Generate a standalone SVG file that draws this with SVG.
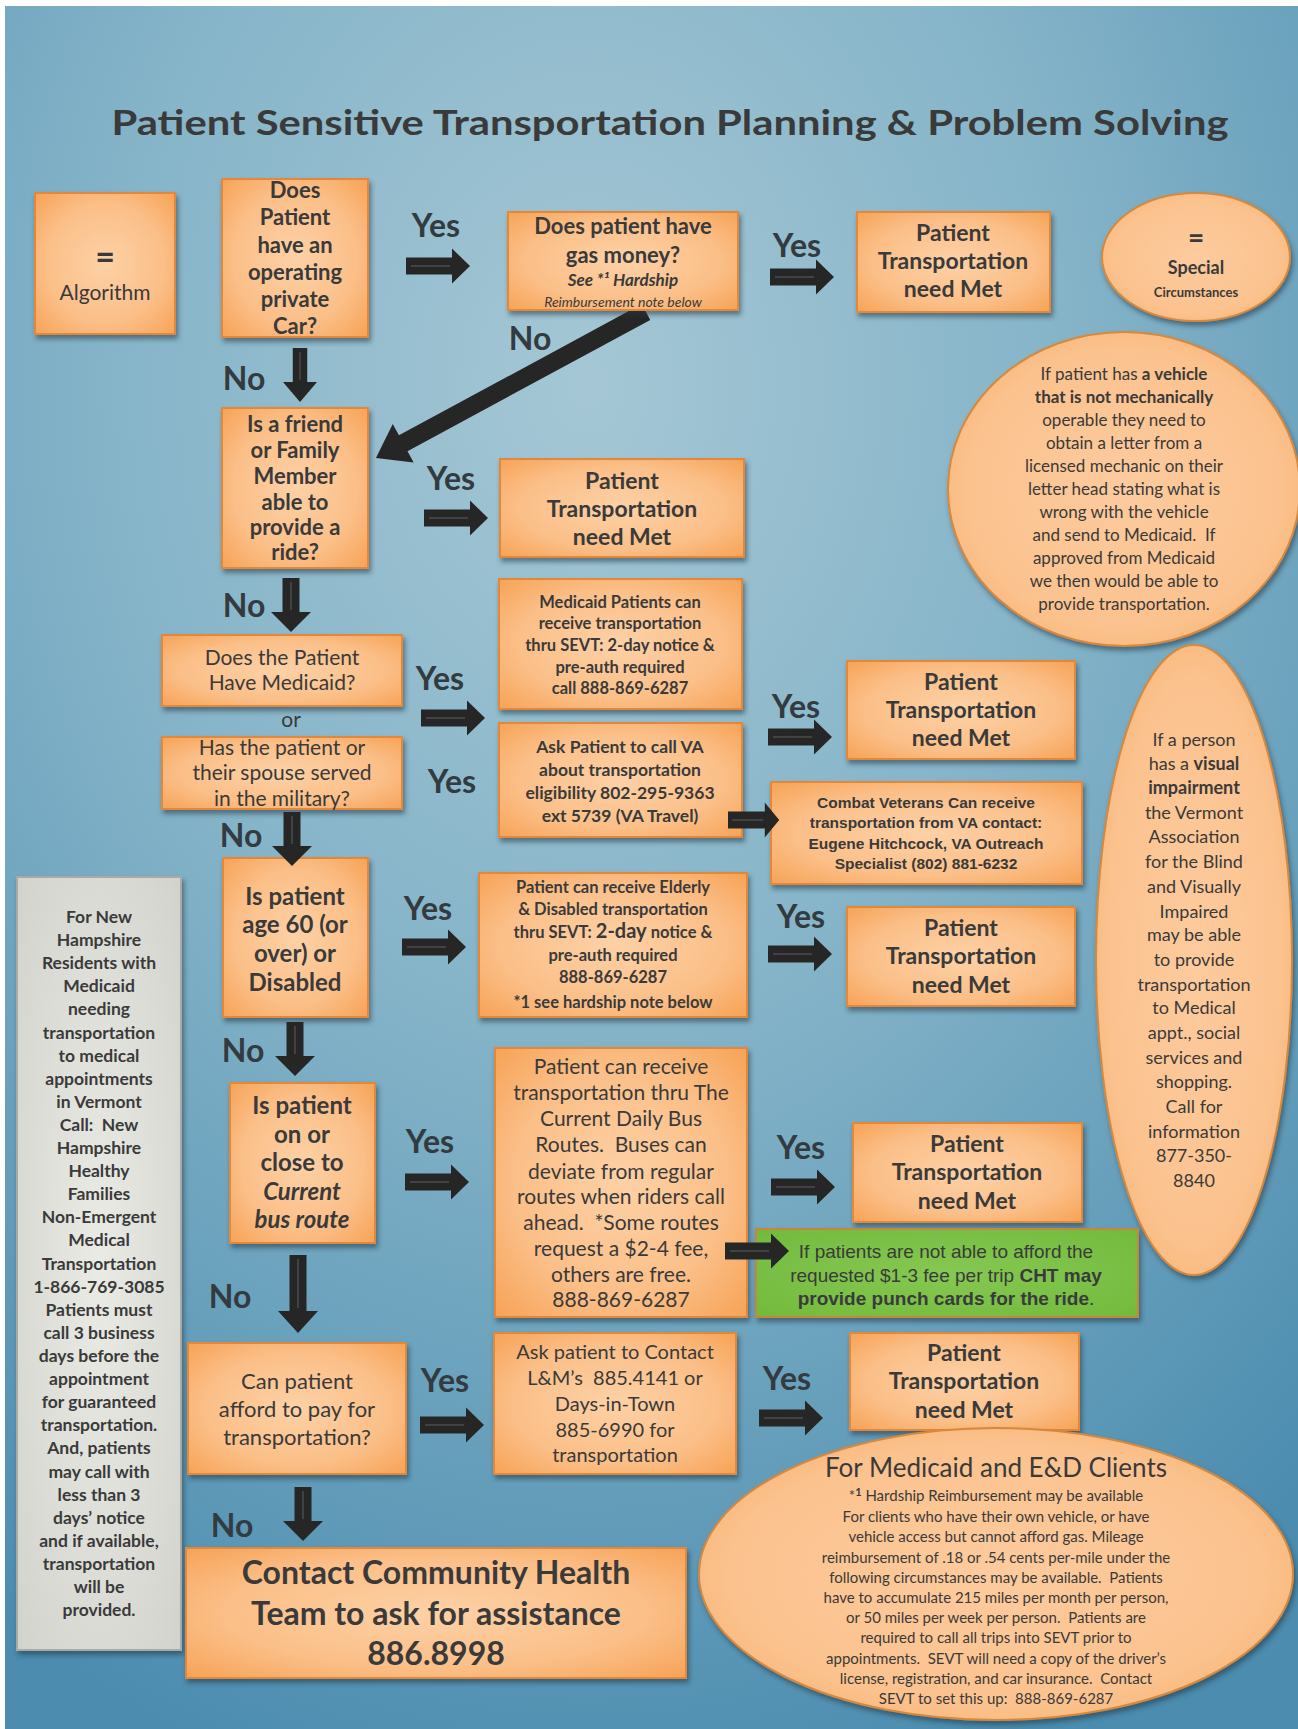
<svg xmlns="http://www.w3.org/2000/svg" xmlns:xlink="http://www.w3.org/1999/xlink" width="1298" height="1729" viewBox="0 0 1298 1729">
<defs>
<radialGradient id="bg" cx="0.45" cy="0.22" r="0.85">
<stop offset="0" stop-color="#a5c7d5"/>
<stop offset="0.45" stop-color="#84b3c8"/>
<stop offset="1" stop-color="#4b8caf"/>
</radialGradient>
<radialGradient id="og" cx="0.5" cy="0.5" r="0.7">
<stop offset="0" stop-color="#fdd1a6"/>
<stop offset="0.6" stop-color="#fbbf88"/>
<stop offset="1" stop-color="#f7a357"/>
</radialGradient>
<radialGradient id="eg" cx="0.5" cy="0.5" r="0.6">
<stop offset="0" stop-color="#fdcb9e"/>
<stop offset="0.75" stop-color="#fbc28e"/>
<stop offset="1" stop-color="#f8b06c"/>
</radialGradient>
<radialGradient id="gg" cx="0.5" cy="0.5" r="0.7">
<stop offset="0" stop-color="#86c853"/>
<stop offset="1" stop-color="#72ba3c"/>
</radialGradient>
<radialGradient id="wg" cx="0.5" cy="0.5" r="0.7">
<stop offset="0" stop-color="#ebebe6"/>
<stop offset="1" stop-color="#d2d3cd"/>
</radialGradient>
<filter id="sh" x="-10%" y="-10%" width="125%" height="125%">
<feDropShadow dx="2" dy="4" stdDeviation="2.5" flood-color="#1d3442" flood-opacity="0.55"/>
</filter>
<g id="arR">
<path d="M0,-8.5 H46 V-17.5 L64,0 L46,17.5 V8.5 H0 Z" fill="#262626"/>
<line x1="5" y1="0" x2="44" y2="0" stroke="#4d4d4d" stroke-width="1.5"/>
</g>
<g id="arD">
<path d="M-8.5,0 V34 H-20 L0,54 L20,34 H8.5 V0 Z" fill="#262626"/>
<line x1="0" y1="4" x2="0" y2="32" stroke="#4d4d4d" stroke-width="1.5"/>
</g>
<style>
.box{fill:url(#og);stroke:#e3873a;stroke-width:2;filter:url(#sh)}
.ell{fill:url(#eg);stroke:#d6883d;stroke-width:2;filter:url(#sh)}
.t{font-family:Lato,"Liberation Sans",sans-serif;fill:#3a3a3a;text-anchor:middle}
.a{font-family:"Liberation Sans",Arial,sans-serif;fill:#3a3a3a;text-anchor:middle}
.b{font-weight:700}
.i{font-style:italic}
.lb{font-family:Lato,"Liberation Sans",sans-serif;font-weight:700;font-size:32px;fill:#333b40;text-anchor:middle}
</style>
</defs>
<rect width="1298" height="1729" fill="#ffffff"/>
<rect x="5" y="6" width="1293" height="1723" fill="url(#bg)"/>
<text class="t b" x="670" y="135" font-size="34" textLength="1117" lengthAdjust="spacingAndGlyphs" fill="#3d3d3d">Patient Sensitive Transportation Planning &amp; Problem Solving</text>

<g id="connectors">
<path d="M0,-9 H276 V-22 L307,0 L276,22 V9 H0 Z" fill="#262626" transform="translate(646,312) rotate(151.6)"/>
</g>

<g id="algorithm"><rect class="box" x="35" y="193" width="140" height="141"/>
<text class="t b" x="105" y="269" font-size="34">=</text>
<text class="t" x="105" y="300" font-size="21">Algorithm</text></g>

<g id="q-car"><rect class="box" x="222" y="179" width="146" height="158"/>
<text class="t b" x="295" font-size="22"><tspan x="295" y="198">Does</tspan><tspan x="295" y="225">Patient</tspan><tspan x="295" y="253">have an</tspan><tspan x="295" y="280">operating</tspan><tspan x="295" y="307">private</tspan><tspan x="295" y="334">Car?</tspan></text></g>

<g id="q-gas"><rect class="box" x="508" y="212" width="230" height="98"/>
<text class="t b" x="623" y="234" font-size="22">Does patient have</text>
<text class="t b" x="623" y="263" font-size="22">gas money?</text>
<text class="t b i" x="623" y="286" font-size="17">See *¹ Hardship</text>
<text class="t i" x="623" y="307" font-size="14">Reimbursement note below</text></g>

<g id="met-1"><rect class="box" x="857" y="212" width="193" height="100"/>
<text class="t b" font-size="23"><tspan x="953" y="241">Patient</tspan><tspan x="953" y="269">Transportation</tspan><tspan x="953" y="297">need Met</tspan></text></g>

<g id="special"><ellipse class="ell" cx="1196" cy="257" rx="94" ry="64"/>
<text class="t b" x="1196" y="248" font-size="28">=</text>
<text class="t b" x="1196" y="274" font-size="18">Special</text>
<text class="t b" x="1196" y="297" font-size="13">Circumstances</text></g>

<g id="q-friend"><rect class="box" x="222" y="408" width="146" height="160"/>
<text class="t b" font-size="22"><tspan x="295" y="432">Is a friend</tspan><tspan x="295" y="458">or Family</tspan><tspan x="295" y="484">Member</tspan><tspan x="295" y="510">able to</tspan><tspan x="295" y="535">provide a</tspan><tspan x="295" y="560">ride?</tspan></text></g>

<g id="met-2"><rect class="box" x="500" y="459" width="244" height="98"/>
<text class="t b" font-size="23"><tspan x="622" y="489">Patient</tspan><tspan x="622" y="517">Transportation</tspan><tspan x="622" y="545">need Met</tspan></text></g>

<g id="vehicle-note"><ellipse class="ell" cx="1124" cy="489" rx="176" ry="157"/>
<text class="t" font-size="17" xml:space="preserve"><tspan x="1124" y="380">If patient has <tspan class="b">a vehicle</tspan></tspan><tspan x="1124" y="403" class="b">that is not mechanically</tspan><tspan x="1124" y="426">operable they need to</tspan><tspan x="1124" y="449">obtain a letter from a</tspan><tspan x="1124" y="472">licensed mechanic on their</tspan><tspan x="1124" y="495">letter head stating what is</tspan><tspan x="1124" y="518">wrong with the vehicle</tspan><tspan x="1124" y="541">and send to Medicaid.  If</tspan><tspan x="1124" y="564">approved from Medicaid</tspan><tspan x="1124" y="587">we then would be able to</tspan><tspan x="1124" y="610">provide transportation.</tspan></text></g>

<g id="q-medicaid"><rect class="box" x="162" y="635" width="240" height="71"/>
<text class="t" font-size="21"><tspan x="282" y="665">Does the Patient</tspan><tspan x="282" y="690">Have Medicaid?</tspan></text></g>
<text class="t" x="291" y="727" font-size="21">or</text>
<g id="q-military"><rect class="box" x="162" y="737" width="240" height="72"/>
<text class="t" font-size="21"><tspan x="282" y="755">Has the patient or</tspan><tspan x="282" y="780">their spouse served</tspan><tspan x="282" y="806">in the military?</tspan></text></g>

<g id="medicaid-info"><rect class="box" x="499" y="579" width="243" height="130"/>
<text class="t b" font-size="16.5"><tspan x="620" y="608">Medicaid Patients can</tspan><tspan x="620" y="629">receive transportation</tspan><tspan x="620" y="651">thru SEVT: 2-day notice &amp;</tspan><tspan x="620" y="673">pre-auth required</tspan><tspan x="620" y="694">call 888-869-6287</tspan></text></g>

<g id="va-info"><rect class="box" x="499" y="723" width="243" height="114"/>
<text class="t b" font-size="17.5"><tspan x="620" y="753">Ask Patient to call VA</tspan><tspan x="620" y="776">about transportation</tspan><tspan x="620" y="799">eligibility 802-295-9363</tspan><tspan x="620" y="822">ext 5739 (VA Travel)</tspan></text></g>

<g id="met-3"><rect class="box" x="847" y="661" width="228" height="98"/>
<text class="t b" font-size="23"><tspan x="961" y="690">Patient</tspan><tspan x="961" y="718">Transportation</tspan><tspan x="961" y="746">need Met</tspan></text></g>

<g id="combat"><rect class="box" x="771" y="782" width="311" height="102"/>
<text class="a b" font-size="15.5"><tspan x="926" y="808">Combat Veterans Can receive</tspan><tspan x="926" y="828">transportation from VA contact:</tspan><tspan x="926" y="849">Eugene Hitchcock, VA Outreach</tspan><tspan x="926" y="869">Specialist (802) 881-6232</tspan></text></g>

<g id="visual-note"><ellipse class="ell" cx="1194" cy="960" rx="98" ry="315"/>
<text class="t" font-size="18"><tspan x="1194" y="746">If a person</tspan><tspan x="1194" y="770">has a <tspan class="b">visual</tspan></tspan><tspan x="1194" y="794" class="b">impairment</tspan><tspan x="1194" y="819">the Vermont</tspan><tspan x="1194" y="843">Association</tspan><tspan x="1194" y="868">for the Blind</tspan><tspan x="1194" y="893">and Visually</tspan><tspan x="1194" y="918">Impaired</tspan><tspan x="1194" y="941">may be able</tspan><tspan x="1194" y="966">to provide</tspan><tspan x="1194" y="991">transportation</tspan><tspan x="1194" y="1014">to Medical</tspan><tspan x="1194" y="1039">appt., social</tspan><tspan x="1194" y="1064">services and</tspan><tspan x="1194" y="1088">shopping.</tspan><tspan x="1194" y="1113">Call for</tspan><tspan x="1194" y="1138">information</tspan><tspan x="1194" y="1162">877-350-</tspan><tspan x="1194" y="1187">8840</tspan></text></g>

<g id="nh-note"><rect x="17" y="877" width="164" height="773" fill="url(#wg)" stroke="#a9aaa5" stroke-width="2" filter="url(#sh)"/>
<text class="t b" font-size="17.5" xml:space="preserve"><tspan x="99" y="923">For New</tspan><tspan x="99" y="946">Hampshire</tspan><tspan x="99" y="969">Residents with</tspan><tspan x="99" y="992">Medicaid</tspan><tspan x="99" y="1015">needing</tspan><tspan x="99" y="1039">transportation</tspan><tspan x="99" y="1062">to medical</tspan><tspan x="99" y="1085">appointments</tspan><tspan x="99" y="1108">in Vermont</tspan><tspan x="99" y="1131">Call:  New</tspan><tspan x="99" y="1154">Hampshire</tspan><tspan x="99" y="1177">Healthy</tspan><tspan x="99" y="1200">Families</tspan><tspan x="99" y="1223">Non-Emergent</tspan><tspan x="99" y="1246">Medical</tspan><tspan x="99" y="1270">Transportation</tspan><tspan x="99" y="1293">1-866-769-3085</tspan><tspan x="99" y="1316">Patients must</tspan><tspan x="99" y="1339">call 3 business</tspan><tspan x="99" y="1362">days before the</tspan><tspan x="99" y="1385">appointment</tspan><tspan x="99" y="1408">for guaranteed</tspan><tspan x="99" y="1431">transportation.</tspan><tspan x="99" y="1454">And, patients</tspan><tspan x="99" y="1478">may call with</tspan><tspan x="99" y="1501">less than 3</tspan><tspan x="99" y="1524">days’ notice</tspan><tspan x="99" y="1547">and if available,</tspan><tspan x="99" y="1570">transportation</tspan><tspan x="99" y="1593">will be</tspan><tspan x="99" y="1616">provided.</tspan></text></g>

<g id="q-age"><rect class="box" x="223" y="858" width="145" height="159"/>
<text class="t b" font-size="24"><tspan x="295" y="905">Is patient</tspan><tspan x="295" y="933">age 60 (or</tspan><tspan x="295" y="962">over) or</tspan><tspan x="295" y="991">Disabled</tspan></text></g>

<g id="elderly-info"><rect class="box" x="479" y="873" width="268" height="144"/>
<text class="t b" font-size="16.5"><tspan x="613" y="893">Patient can receive Elderly</tspan><tspan x="613" y="915">&amp; Disabled transportation</tspan><tspan x="613" y="938">thru SEVT: <tspan font-size="20">2-day</tspan> notice &amp;</tspan><tspan x="613" y="961">pre-auth required</tspan><tspan x="613" y="983">888-869-6287</tspan><tspan x="613" y="1008">*1 see hardship note below</tspan></text></g>

<g id="met-4"><rect class="box" x="847" y="907" width="228" height="99"/>
<text class="t b" font-size="23"><tspan x="961" y="936">Patient</tspan><tspan x="961" y="964">Transportation</tspan><tspan x="961" y="993">need Met</tspan></text></g>

<g id="q-bus"><rect class="box" x="230" y="1083" width="145" height="160"/>
<text class="t b" font-size="24"><tspan x="302" y="1114">Is patient</tspan><tspan x="302" y="1143">on or</tspan><tspan x="302" y="1171">close to</tspan><tspan x="302" y="1200" class="i">Current</tspan><tspan x="302" y="1228" class="i">bus route</tspan></text></g>

<g id="bus-info"><rect class="box" x="495" y="1048" width="252" height="269"/>
<text class="t" font-size="21" xml:space="preserve"><tspan x="621" y="1074">Patient can receive</tspan><tspan x="621" y="1100">transportation thru The</tspan><tspan x="621" y="1126">Current Daily Bus</tspan><tspan x="621" y="1152">Routes.  Buses can</tspan><tspan x="621" y="1179">deviate from regular</tspan><tspan x="621" y="1204">routes when riders call</tspan><tspan x="621" y="1230">ahead.  *Some routes</tspan><tspan x="621" y="1256">request a $2-4 fee,</tspan><tspan x="621" y="1282">others are free.</tspan><tspan x="621" y="1307">888-869-6287</tspan></text></g>

<g id="met-5"><rect class="box" x="853" y="1123" width="229" height="99"/>
<text class="t b" font-size="23"><tspan x="967" y="1152">Patient</tspan><tspan x="967" y="1180">Transportation</tspan><tspan x="967" y="1209">need Met</tspan></text></g>

<g id="punch-cards"><rect x="756" y="1229" width="382" height="88" fill="url(#gg)" stroke="#c8863c" stroke-width="2" filter="url(#sh)"/>
<text class="a" font-size="19" fill="#333"><tspan x="946" y="1258">If patients are not able to afford the</tspan><tspan x="946" y="1282">requested $1-3 fee per trip <tspan class="b">CHT may</tspan></tspan><tspan x="946" y="1305"><tspan class="b">provide punch cards for the ride</tspan>.</tspan></text></g>

<g id="q-afford"><rect class="box" x="188" y="1343" width="218" height="131"/>
<text class="t" font-size="22"><tspan x="297" y="1389">Can patient</tspan><tspan x="297" y="1417">afford to pay for</tspan><tspan x="297" y="1445">transportation?</tspan></text></g>

<g id="lm-info"><rect class="box" x="494" y="1333" width="242" height="141"/>
<text class="t" font-size="20" xml:space="preserve"><tspan x="615" y="1359">Ask patient to Contact</tspan><tspan x="615" y="1385">L&amp;M’s  885.4141 or</tspan><tspan x="615" y="1411">Days-in-Town</tspan><tspan x="615" y="1437">885-6990 for</tspan><tspan x="615" y="1462">transportation</tspan></text></g>

<g id="met-6"><rect class="box" x="850" y="1333" width="229" height="97"/>
<text class="t b" font-size="23"><tspan x="964" y="1361">Patient</tspan><tspan x="964" y="1389">Transportation</tspan><tspan x="964" y="1418">need Met</tspan></text></g>

<g id="contact-cht"><rect class="box" x="186" y="1548" width="500" height="130"/>
<text class="t b" font-size="32"><tspan x="436" y="1584">Contact Community Health</tspan><tspan x="436" y="1625">Team to ask for assistance</tspan><tspan x="436" y="1665">886.8998</tspan></text></g>

<g id="hardship-note"><ellipse class="ell" cx="996" cy="1574" rx="297" ry="146"/>
<text class="t" x="996" y="1477" font-size="26">For Medicaid and E&amp;D Clients</text>
<text class="t" font-size="15" xml:space="preserve"><tspan x="996" y="1501">*<tspan class="b" font-size="11" dy="-5">1</tspan><tspan dy="5"> Hardship Reimbursement may be available</tspan></tspan><tspan x="996" y="1522">For clients who have their own vehicle, or have</tspan><tspan x="996" y="1542">vehicle access but cannot afford gas. Mileage</tspan><tspan x="996" y="1563">reimbursement of .18 or .54 cents per-mile under the</tspan><tspan x="996" y="1583">following circumstances may be available.  Patients</tspan><tspan x="996" y="1603">have to accumulate 215 miles per month per person,</tspan><tspan x="996" y="1623">or 50 miles per week per person.  Patients are</tspan><tspan x="996" y="1643">required to call all trips into SEVT prior to</tspan><tspan x="996" y="1664">appointments.  SEVT will need a copy of the driver’s</tspan><tspan x="996" y="1684">license, registration, and car insurance.  Contact</tspan><tspan x="996" y="1704">SEVT to set this up:  888-869-6287</tspan></text></g>

<g id="connectors-2">
<use xlink:href="#arR" transform="translate(406,266)"/>
<use xlink:href="#arR" transform="translate(770,277)"/>
<use xlink:href="#arR" transform="translate(424,518)"/>
<use xlink:href="#arR" transform="translate(421,718)"/>
<use xlink:href="#arR" transform="translate(768,737)"/>
<use xlink:href="#arR" transform="translate(728,820) scale(0.8,1)"/>
<use xlink:href="#arR" transform="translate(402,947)"/>
<use xlink:href="#arR" transform="translate(768,954)"/>
<use xlink:href="#arR" transform="translate(405,1182)"/>
<use xlink:href="#arR" transform="translate(771,1187)"/>
<use xlink:href="#arR" transform="translate(725,1251)"/>
<use xlink:href="#arR" transform="translate(420,1425)"/>
<use xlink:href="#arR" transform="translate(759,1418)"/>
<use xlink:href="#arD" transform="translate(300,348) scale(0.85,1)"/>
<use xlink:href="#arD" transform="translate(291,578)"/>
<use xlink:href="#arD" transform="translate(292,812)"/>
<use xlink:href="#arD" transform="translate(295,1022)"/>
<path d="M289.5,1255 V1311 H278 L298,1333 L318,1311 H306.5 V1255 Z" fill="#262626"/>
<line x1="298" y1="1259" x2="298" y2="1308" stroke="#4d4d4d" stroke-width="1.5"/>
<use xlink:href="#arD" transform="translate(303,1487)"/>
<text class="lb" x="436" y="237">Yes</text>
<text class="lb" x="797" y="257" font-weight="400" font-size="33">Yes</text>
<text class="lb" x="530" y="350">No</text>
<text class="lb" x="244" y="390">No</text>
<text class="lb" x="451" y="490">Yes</text>
<text class="lb" x="244" y="617">No</text>
<text class="lb" x="440" y="690">Yes</text>
<text class="lb" x="796" y="718">Yes</text>
<text class="lb" x="452" y="793">Yes</text>
<text class="lb" x="241" y="847">No</text>
<text class="lb" x="428" y="920">Yes</text>
<text class="lb" x="801" y="928">Yes</text>
<text class="lb" x="243" y="1062">No</text>
<text class="lb" x="430" y="1153">Yes</text>
<text class="lb" x="801" y="1159">Yes</text>
<text class="lb" x="230" y="1308">No</text>
<text class="lb" x="445" y="1392">Yes</text>
<text class="lb" x="787" y="1390">Yes</text>
<text class="lb" x="232" y="1537">No</text>
</g>
</svg>
